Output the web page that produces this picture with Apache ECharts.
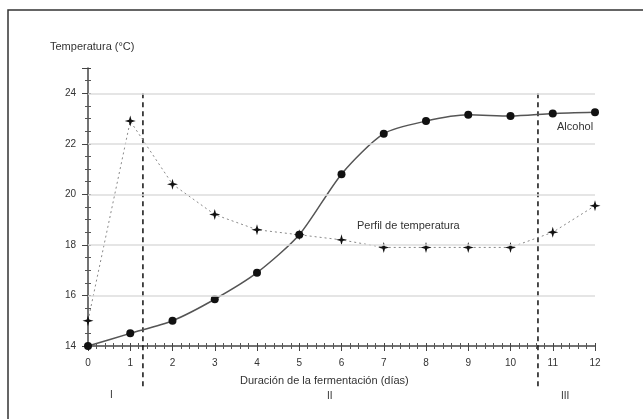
<!DOCTYPE html>
<html><head><meta charset="utf-8">
<script src="https://cdn.jsdelivr.net/npm/echarts@6/dist/echarts.min.js"></script>
<style>html,body{margin:0;padding:0;background:#fff}#c{width:643px;height:419px}</style>
</head><body><div id="c"></div>
<script>
const days = [0,1,2,3,4,5,6,7,8,9,10,11,12];
const alcohol = [14.0,14.5,15.0,15.85,16.9,18.4,20.8,22.4,22.9,23.15,23.1,23.2,23.25];
const temperature = [15.0,22.9,20.4,19.2,18.6,18.4,18.2,17.9,17.9,17.9,17.9,18.5,19.55];
const yTicks = [16,18,20,22,24];
const phaseBounds = [1.3,10.65];
const phaseTop = 24;
const phaseBottom = 12.25;
const phaseLabels = ['I','II','III'];

const chart = echarts.init(document.getElementById('c'));
const txt = '#333';
const star = 'path://M0,-10 L2.2,-2.2 L10,0 L2.2,2.2 L0,10 L-2.2,2.2 L-10,0 L-2.2,-2.2 Z';
const pairs = a => days.map((d,i)=>[d,a[i]]);
const font = 'Liberation Sans, Arial, sans-serif';

const boundSeries = phaseBounds.map(b => ({
  type:'line',data:[[b,phaseTop],[b,phaseBottom]],clip:false,
  symbol:'none',silent:true,z:2,
  lineStyle:{color:'#111',width:1.5,type:[5,4]}
}));

chart.setOption({
  animation:false,
  grid:{left:88,right:48,top:68,bottom:73},
  xAxis:[{
    type:'value',min:0,max:12,interval:1,
    axisLine:{lineStyle:{color:'#444',width:1.5}},
    axisTick:{length:5,lineStyle:{color:'#444'}},
    minorTick:{show:true,splitNumber:5,length:3,lineStyle:{color:'#555'}},
    axisLabel:{color:txt,fontSize:10,fontFamily:font,margin:12},
    splitLine:{show:false}
  },{
    type:'value',min:0,max:12,interval:1,position:'bottom',
    axisLine:{show:false},
    axisTick:{inside:true,length:3,lineStyle:{color:'#444'}},
    minorTick:{show:true,splitNumber:5,length:3,lineStyle:{color:'#555'}},
    axisLabel:{show:false},splitLine:{show:false}
  }],
  yAxis:[{
    type:'value',min:14,max:25,interval:2,
    axisLine:{show:true,lineStyle:{color:'#444',width:1.5}},
    axisTick:{show:true,length:6,lineStyle:{color:'#444'}},
    minorTick:{show:true,splitNumber:4,length:3,lineStyle:{color:'#555'}},
    axisLabel:{color:txt,fontSize:10,fontFamily:font,margin:12,showMaxLabel:false},
    splitLine:{show:false}
  },{
    type:'value',min:14,max:25,interval:2,position:'left',
    axisLine:{show:false},
    axisTick:{show:true,inside:true,length:3,lineStyle:{color:'#444'}},
    minorTick:{show:true,splitNumber:4,length:3,lineStyle:{color:'#555'}},
    axisLabel:{show:false},splitLine:{show:false}
  }],
  series:[
    {
      type:'line',data:pairs(temperature),xAxisIndex:0,yAxisIndex:0,
      symbol:star,symbolSize:11,itemStyle:{color:'#111'},
      lineStyle:{color:'#888',width:1,type:[2,3]},z:3,
      markLine:{
        silent:true,symbol:'none',label:{show:false},
        lineStyle:{color:'#ddd',width:1.5,type:'solid'},
        data:yTicks.map(v=>({yAxis:v}))
      }
    },
    {
      type:'line',data:pairs(alcohol),xAxisIndex:0,yAxisIndex:0,smooth:0.25,
      symbol:'circle',symbolSize:8,itemStyle:{color:'#111'},
      lineStyle:{color:'#555',width:1.5},z:4
    },
    ...boundSeries
  ],
  graphic:[
    {type:'rect',shape:{x:8,y:10,width:700,height:500},style:{fill:'none',stroke:'#333',lineWidth:1.5},silent:true},
    {type:'text',left:50,top:41,style:{text:'Temperatura (°C)',fill:txt,font:'11px '+font}},
    {type:'text',left:240,top:375,style:{text:'Duración de la fermentación (días)',fill:txt,font:'11px '+font}},
    {type:'text',left:557,top:121,style:{text:'Alcohol',fill:txt,font:'11px '+font}},
    {type:'text',left:357,top:220,style:{text:'Perfil de temperatura',fill:txt,font:'11px '+font}},
    {type:'text',left:110,top:390,style:{text:phaseLabels[0],fill:txt,font:'10px '+font}},
    {type:'text',left:327,top:391,style:{text:phaseLabels[1],fill:txt,font:'10px '+font}},
    {type:'text',left:561,top:391,style:{text:phaseLabels[2],fill:txt,font:'10px '+font}}
  ]
});
</script></body></html>
